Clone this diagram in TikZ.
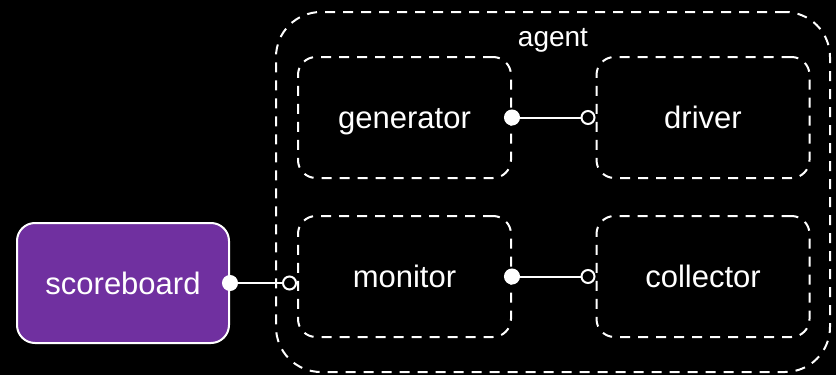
\documentclass[tikz,border=0pt]{standalone}
\usepackage{fontspec}
\setmainfont{Liberation Sans}
\usetikzlibrary{arrows.meta,positioning}
\definecolor{sbpurple}{HTML}{7030A0}
\tikzset{
  blk/.style  = { draw=white, line width=2pt, dash pattern=on 10pt off 8pt,
    rounded corners=18pt, minimum width=213pt, minimum height=121pt,
    text=white, text height=22.6pt, text depth=0pt,
    font=\fontsize{31}{36}\selectfont },
  grp/.style  = { draw=white, line width=2pt, dash pattern=on 10pt off 8pt,
    rounded corners=45pt, minimum width=554pt, minimum height=360pt },
  grplbl/.style = { text=white, inner sep=0pt, text height=20.4pt, text depth=0pt,
    font=\fontsize{28}{32}\selectfont },
  sb/.style   = { draw=white, line width=2pt, fill=sbpurple, rounded corners=18pt,
    minimum width=212pt, minimum height=120pt,
    text=white, text height=22.6pt, text depth=0pt,
    font=\fontsize{31}{36}\selectfont },
  wire/.style = { draw=white, line width=2pt, shorten <=-8pt,
    {Circle[length=16pt]}-{Circle[open,length=15pt]} }
}

\begin{document}
\begin{tikzpicture}[on grid]
      % black page
      \fill[black] (0pt,0pt) rectangle (836pt,-375pt);
      % agent and its parts
      \node[grp] (agent) at (553pt,-192pt) {};
      \node[grplbl] (agentname) at ([yshift=-25pt]agent.north) {agent};
      \node[blk] (generator) at (404.5pt,-117.5pt) {generator};
      \node[blk, right=298.5pt of generator] (driver) {driver};
      \node[blk, below=159pt of generator] (monitor) {monitor};
      \node[blk, right=298.5pt of monitor] (collector) {collector};
      \node[sb] (scoreboard) at (123pt,-283pt) {scoreboard};
      \path[wire] (generator.east) -- (driver.west);
      \path[wire] (monitor.east) -- (collector.west);
      \path[wire] (scoreboard.east) -- (scoreboard.east -| monitor.west);
\end{tikzpicture}
\end{document}
